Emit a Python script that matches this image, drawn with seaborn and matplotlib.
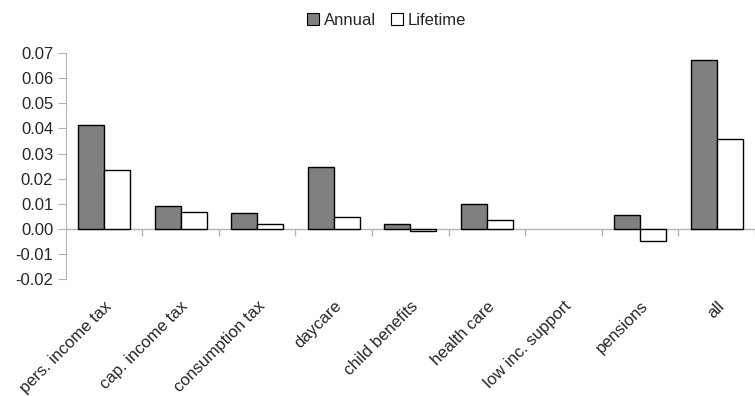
import pandas as pd
import matplotlib.pyplot as plt
import seaborn as sns

categories = ["pers. income tax", "cap. income tax", "consumption tax", "daycare",
              "child benefits", "health care", "low inc. support", "pensions", "all"]
annual = [0.0415, 0.0091, 0.0062, 0.0247, 0.0020, 0.0098, 0.0, 0.0057, 0.0672]
lifetime = [0.0234, 0.0067, 0.0018, 0.0046, -0.0007, 0.0034, 0.0, -0.0047, 0.0357]
yticks = [-0.02, -0.01, 0.0, 0.01, 0.02, 0.03, 0.04, 0.05, 0.06, 0.07]

df = pd.DataFrame({"category": categories * 2,
                   "value": annual + lifetime,
                   "series": ["Annual"] * len(categories) + ["Lifetime"] * len(categories)})

sns.set_style("white")
plt.rcParams['font.family'] = ['Liberation Sans', 'DejaVu Sans']
fs = 12

fig = plt.figure(figsize=(7.55, 3.96), dpi=100)
ax = fig.add_axes([0.087, 0.295, 0.913, 0.571])

sns.barplot(data=df, x="category", y="value", hue="series",
            palette={"Annual": "#808080", "Lifetime": "#ffffff"},
            edgecolor="black", linewidth=1, width=0.68, ax=ax, legend=False)
# zero-height bars are not visible in the original
for p in ax.patches:
    if p.get_height() == 0:
        p.set_linewidth(0)

gray = "#b3b3b3"
ax.set_xlim(-0.5, len(categories) - 0.5)
ax.set_ylim(-0.02, 0.07)
ax.set_yticks(yticks)
ax.set_yticklabels([f"{v:.2f}" for v in yticks], fontsize=fs)
ax.axhline(0, color=gray, lw=1, zorder=0)
ax.vlines([i + 0.5 for i in range(len(categories))], -0.0028, 0, color=gray, lw=1, zorder=0)
for s in ["top", "right", "bottom"]:
    ax.spines[s].set_visible(False)
ax.spines["left"].set_color(gray)
ax.tick_params(axis="y", length=6, color=gray, pad=3, left=True)
ax.tick_params(axis="x", length=0, pad=14)
ax.set_xticks(range(len(categories)))
ax.set_xticklabels(categories, rotation=45, ha="right", va="top",
                   rotation_mode="anchor", fontsize=fs)
ax.set_xlabel("")
ax.set_ylabel("")

handles = [plt.Rectangle((0, 0), 1, 1, facecolor="#808080", edgecolor="black", lw=0.8),
           plt.Rectangle((0, 0), 1, 1, facecolor="#ffffff", edgecolor="black", lw=0.8)]
fig.legend(handles, ["Annual", "Lifetime"], loc="upper center", bbox_to_anchor=(0.512, 1.006),
           ncol=2, frameon=False, fontsize=fs, handlelength=0.7, handleheight=0.7,
           handletextpad=0.3, columnspacing=0.9)

fig.savefig("out.png", dpi=100)
